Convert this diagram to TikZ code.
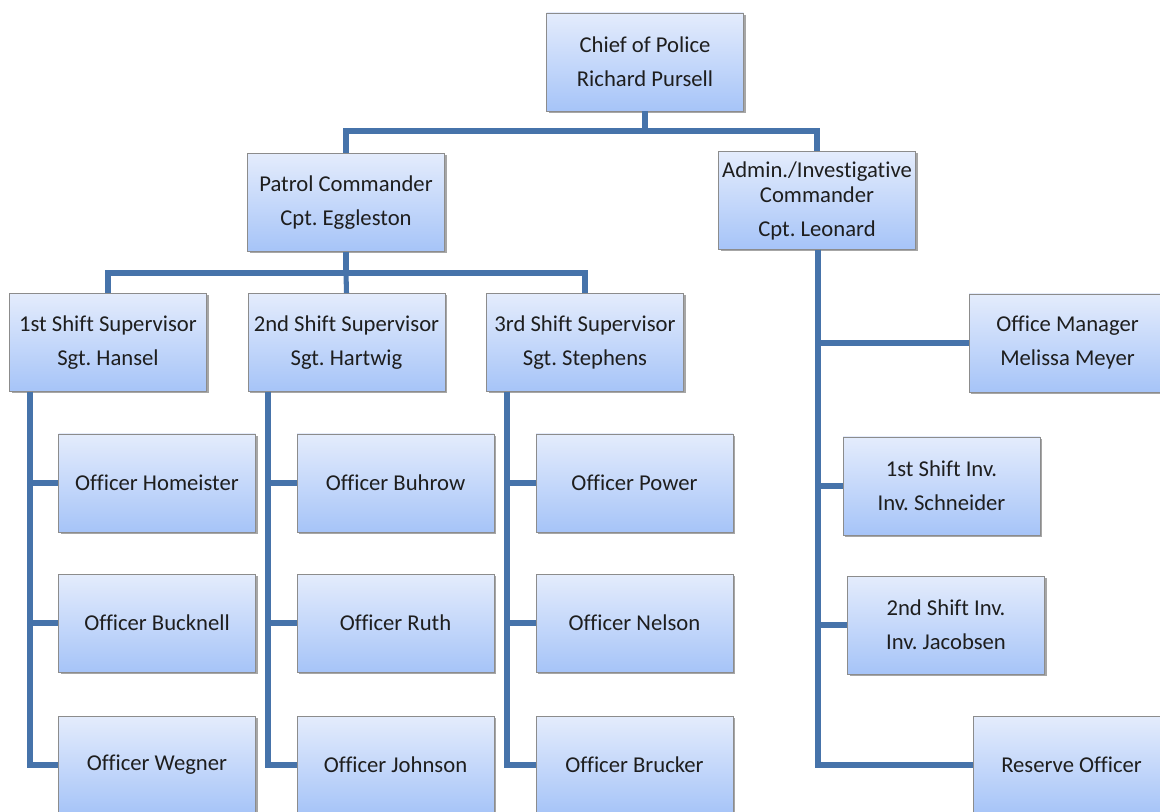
\documentclass[tikz,border=0pt]{standalone}
\usepackage{fontspec}
\setmainfont[Ligatures=NoCommon]{Carlito}
\usetikzlibrary{shadows,calc}
\definecolor{linec}{RGB}{70,115,170}
\definecolor{boxtop}{RGB}{228,236,252}
\definecolor{boxbot}{RGB}{166,196,248}
\definecolor{boxdraw}{RGB}{140,140,140}
\definecolor{txt}{RGB}{30,30,30}
\tikzset{
  box/.style={draw=boxdraw, line width=0.6pt, top color=boxtop, bottom color=boxbot,
    minimum width=147.75pt, minimum height=73.5pt, inner sep=0pt, align=center,
    text=txt, font=\fontsize{17pt}{18.75pt}\selectfont\frenchspacing,
    drop shadow={shadow xshift=1.5pt, shadow yshift=-1.5pt, opacity=0.35, fill=black}},
  conn/.style={draw=linec, line width=3.8pt, line cap=butt, line join=miter}
}
\begin{document}
\begin{tikzpicture}[x=0.75pt,y=-0.75pt]
\useasboundingbox (0,0) rectangle (1160,812);
\clip (0,0) rectangle (1160,812);
% coordinates for buses
\coordinate (top) at (645,131);
\coordinate (mid) at (346,273);
\coordinate (b1) at (30,400);
\coordinate (b2) at (268,400);
\coordinate (b3) at (507,400);
\coordinate (b4) at (818,400);
% nodes
\node[box] (chief) at (645,62) {Chief of Police\\[6.75pt]Richard Pursell};
\node[box] (patrol) at (346,202.5) {Patrol Commander\\[6.75pt]Cpt. Eggleston};
\node[box] (admin) at (817,200.5) {Admin./Investigative\\Commander\\[6.75pt]Cpt. Leonard};
\node[box] (s1) at (108,342.5) {1st Shift Supervisor\\[6.75pt]Sgt. Hansel};
\node[box] (s2) at (346.5,342.5) {2nd Shift Supervisor\\[6.75pt]Sgt. Hartwig};
\node[box] (s3) at (585,342.5) {3rd Shift Supervisor\\[6.75pt]Sgt. Stephens};
\node[box] (om) at (1067.5,343) {Office Manager\\[6.75pt]Melissa Meyer};
\node[box] (homeister) at (157,483) {Officer Homeister};
\node[box] (bucknell) at (157,623) {Officer Bucknell};
\node[box] (wegner) at (157,765) {Officer Wegner};
\node[box] (buhrow) at (395.5,483) {Officer Buhrow};
\node[box] (ruth) at (395.5,623) {Officer Ruth};
\node[box] (johnson) at (395.5,765) {Officer Johnson};
\node[box] (power) at (634.5,483) {Officer Power};
\node[box] (nelson) at (634.5,623) {Officer Nelson};
\node[box] (brucker) at (634.5,765) {Officer Brucker};
\node[box] (inv1) at (941.5,486) {1st Shift Inv.\\[6.75pt]Inv. Schneider};
\node[box] (inv2) at (946,625) {2nd Shift Inv.\\[6.75pt]Inv. Jacobsen};
\node[box] (reserve) at (1071.5,765) {Reserve Officer};
% connectors
\draw[conn] (chief.south) -- (top) -| (patrol.north);
\draw[conn] (top) -| (admin.north);
\draw[conn] (patrol.south) -- (mid) -| (s1.north);
\draw[conn] (mid) -| (s3.north);
\draw[conn] (mid) -- (s2.north);
\draw[conn] (s1.south -| b1) |- (homeister.west);
\draw[conn] (s1.south -| b1) |- (bucknell.west);
\draw[conn] (s1.south -| b1) |- (wegner.west);
\draw[conn] (s2.south -| b2) |- (buhrow.west);
\draw[conn] (s2.south -| b2) |- (ruth.west);
\draw[conn] (s2.south -| b2) |- (johnson.west);
\draw[conn] (s3.south -| b3) |- (power.west);
\draw[conn] (s3.south -| b3) |- (nelson.west);
\draw[conn] (s3.south -| b3) |- (brucker.west);
\draw[conn] (admin.south -| b4) |- (om.west);
\draw[conn] (admin.south -| b4) |- (inv1.west);
\draw[conn] (admin.south -| b4) |- (inv2.west);
\draw[conn] (admin.south -| b4) |- (reserve.west);
\end{tikzpicture}
\end{document}
